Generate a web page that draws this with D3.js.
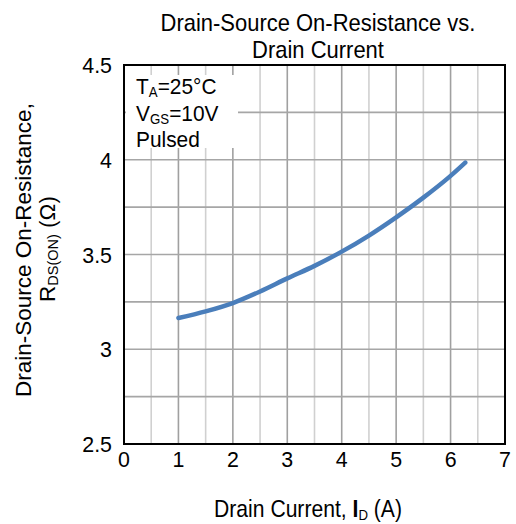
<!DOCTYPE html>
<html><head><meta charset="utf-8">
<script src="https://cdn.jsdelivr.net/npm/d3@7"></script>
<style>body{margin:0;background:#fff}svg{display:block}text{font-family:"Liberation Sans",Arial,sans-serif;fill:#000}</style>
</head><body>
<script>
const currentA = [1, 1.5, 2, 2.5, 3, 3.5, 4, 4.5, 5, 5.5, 6, 6.27];
const resistance = [3.165, 3.2, 3.244, 3.305, 3.374, 3.44, 3.515, 3.6, 3.696, 3.8, 3.915, 3.985];
const xTicks = [0,1,2,3,4,5,6,7];
const yTicks = [2.5,3,3.5,4,4.5];
const yTickLabels = ["2.5","3","3.5","4","4.5"];

const W=516,H=524;
const m={l:124,r:505,t:65,b:444};
const svg=d3.select("body").append("svg").attr("width",W).attr("height",H);
const x=d3.scaleLinear().domain([0,7]).range([m.l,m.r]);
const y=d3.scaleLinear().domain([2.5,4.5]).range([m.b,m.t]);

const g=svg.append("g");
d3.range(0.5,7,0.5).forEach(v=>{
  g.append("line").attr("x1",x(v)).attr("x2",x(v)).attr("y1",m.t).attr("y2",m.b)
   .attr("stroke", Number.isInteger(v)?"#a0a0a0":"#d0d0d0").attr("stroke-width",1.6);
});
d3.range(2.75,4.5,0.25).forEach(v=>{
  g.append("line").attr("x1",m.l).attr("x2",m.r).attr("y1",y(v)).attr("y2",y(v))
   .attr("stroke","#a6a6a6").attr("stroke-width",1.6);
});
svg.append("rect").attr("x",126).attr("y",75).attr("width",112).attr("height",73).attr("fill","#fff");

svg.append("path").datum(currentA.map((c,i)=>[c,resistance[i]]))
  .attr("d",d3.line().x(d=>x(d[0])).y(d=>y(d[1])).curve(d3.curveMonotoneX))
  .attr("fill","none").attr("stroke","#4A7EBB").attr("stroke-width",4.5).attr("stroke-linecap","round");

svg.append("rect").attr("x",m.l).attr("y",m.t).attr("width",m.r-m.l).attr("height",m.b-m.t)
  .attr("fill","none").attr("stroke","#000").attr("stroke-width",2);

function htext(px,py,size,sx,anchor){
  return svg.append("text").attr("transform",`translate(${px},${py}) scale(${sx},1)`)
    .attr("text-anchor",anchor).attr("font-size",size);
}
xTicks.forEach(v=>htext(x(v),467,23,0.93,"middle").text(v));
yTicks.forEach((v,i)=>htext(112,y(v)+8,23,0.93,"end").text(yTickLabels[i]));

htext(318,31,24,0.915,"middle").text("Drain-Source On-Resistance vs.");
htext(318,58,24,0.915,"middle").text("Drain Current");

const xt=htext(308,517,24,0.88,"middle");
xt.append("tspan").text("Drain Current, ");
xt.append("tspan").attr("font-weight","bold").text("I");
xt.append("tspan").attr("font-size",15).attr("dy",3).text("D");
xt.append("tspan").attr("dy",-3).text(" (A)");

svg.append("text").attr("transform","translate(31,250) scale(0.95,1) rotate(-90)").attr("text-anchor","middle").attr("font-size",22.5)
  .text("Drain-Source On-Resistance,");
const yt2=svg.append("text").attr("transform","translate(55,249) scale(0.95,1) rotate(-90)").attr("text-anchor","middle").attr("font-size",22.5);
yt2.append("tspan").text("R");
yt2.append("tspan").attr("font-size",14.5).attr("dy",3).text("DS(ON)");
yt2.append("tspan").attr("dy",-3).text(" (Ω)");

const l1=htext(136,94,22,0.95,"start");
l1.append("tspan").text("T");l1.append("tspan").attr("font-size",14).attr("dy",3).text("A");
l1.append("tspan").attr("dy",-3).text("=25°C");
const l2=htext(136,121,22,0.95,"start");
l2.append("tspan").text("V");l2.append("tspan").attr("font-size",14).attr("dy",3).text("GS");
l2.append("tspan").attr("dy",-3).text("=10V");
htext(136,147,22,0.95,"start").text("Pulsed");
</script>
</body></html>
